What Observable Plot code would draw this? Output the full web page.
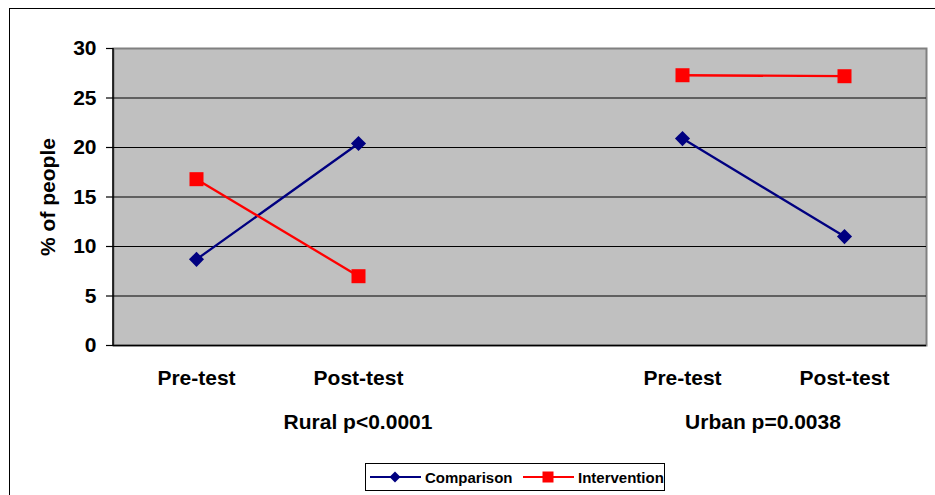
<!DOCTYPE html>
<html><head><meta charset="utf-8">
<script src="https://cdn.jsdelivr.net/npm/d3@7"></script>
<script src="https://cdn.jsdelivr.net/npm/@observablehq/plot@0.6"></script>
<style>
body{margin:0;background:#fff;}
#wrap{position:relative;width:935px;height:495px;overflow:hidden;font-family:Arial,"Liberation Sans",sans-serif;background:#fff;}
#border{position:absolute;left:9px;top:8px;width:980px;height:540px;border:1px solid #000;box-sizing:border-box;}
#chart{position:absolute;left:0;top:0;}
#legend{position:absolute;left:365px;top:463px;width:300px;height:28px;border:1px solid #000;box-sizing:border-box;background:#fff;font-weight:bold;font-size:15px;color:#000;}
#legend .item{position:absolute;top:0;height:26px;display:flex;align-items:center;}
#legend svg{display:block;margin-right:4px;}
</style></head>
<body>
<div id="wrap"><div id="border"></div><div id="chart"></div><div id="legend"></div></div>
<script>
// ---- data ----
const slots = ["Rural Pre-test", "Rural Post-test", "gap", "Urban Pre-test", "Urban Post-test"];
const slotLabels = ["Pre-test", "Post-test", "", "Pre-test", "Post-test"];
const slotGroup = ["Rural", "Rural", "Rural", "Urban", "Urban"];
const groupNames = ["Rural", "Urban"];
const groupLabels = ["Rural p<0.0001", "Urban p=0.0038"];
const seriesNames = ["Comparison", "Intervention"];
const seriesColors = ["#000080", "#ff0000"];
const comparison = [8.7, 20.4, null, 20.9, 11.0];
const intervention = [16.8, 7.0, null, 27.3, 27.2];
const yTicks = [0, 5, 10, 15, 20, 25, 30];
const yLabel = "% of people";

// ---- table ----
const rows = [];
[comparison, intervention].forEach((vals, si) => {
  vals.forEach((v, i) => {
    if (v != null) rows.push({slot: slots[i], series: seriesNames[si], value: v, key: seriesNames[si] + "|" + slotGroup[i]});
  });
});
const labelRows = slots.map((s, i) => ({slot: s, label: slotLabels[i]}));

const W = 935, H = 495;
const font = "Arial, 'Liberation Sans', sans-serif";

function leftLine(index, scales, values, dims) {
  const g = d3.create("svg:g");
  g.append("line")
    .attr("x1", dims.marginLeft).attr("x2", dims.marginLeft)
    .attr("y1", dims.marginTop).attr("y2", dims.height - dims.marginBottom)
    .attr("stroke", "#000").attr("stroke-width", 1.5);
  return g.node();
}

function groupText(index, scales, values, dims) {
  const g = d3.create("svg:g")
    .attr("font-size", 21).attr("font-weight", "bold").attr("text-anchor", "middle").attr("fill", "#000");
  groupNames.forEach((gn, gi) => {
    const xs = slots.filter((s, i) => slotGroup[i] === gn).map(s => scales.x(s));
    const cx = d3.mean(xs);
    g.append("text").attr("x", cx).attr("y", dims.height - dims.marginBottom + 77).attr("dy", "0.35em").text(groupLabels[gi]);
  });
  return g.node();
}

const chart = Plot.plot({
  width: W, height: H,
  marginLeft: 113, marginRight: 9, marginTop: 48, marginBottom: 150,
  style: {fontFamily: font, fontWeight: "bold", color: "#000", background: "transparent", overflow: "visible"},
  x: {type: "point", domain: slots, padding: 0.5, axis: null},
  y: {domain: [0, 30], axis: null},
  color: {domain: seriesNames, range: seriesColors},
  marks: [
    Plot.frame({fill: "#c0c0c0", stroke: "#808080", strokeWidth: 2}),
    Plot.gridY(yTicks.filter(t => t > 0 && t < 30), {stroke: "#000", strokeOpacity: 1, strokeWidth: 1}),
    Plot.axisY({ticks: yTicks, tickSize: 7, tickPadding: 10, fontSize: 21, label: null, stroke: "#000", strokeWidth: 1.2}),
    leftLine,
    Plot.ruleY([0], {stroke: "#000", strokeWidth: 1.5}),
    Plot.text(labelRows, {x: "slot", text: "label", frameAnchor: "bottom", dy: 33, lineAnchor: "middle", fontSize: 21, fontWeight: "bold", fill: "#000"}),
    groupText,
    Plot.text([yLabel], {text: d => d, frameAnchor: "left", dx: -65, rotate: -90, textAnchor: "middle", lineAnchor: "middle", fontSize: 21, fontWeight: "bold", fill: "#000"}),
    Plot.line(rows, {x: "slot", y: "value", z: "key", stroke: "series", strokeWidth: 2.3}),
    Plot.dot(rows.filter(d => d.series === "Comparison"), {x: "slot", y: "value", symbol: () => "diamond2", fill: "series", r: 6.8}),
    Plot.dot(rows.filter(d => d.series === "Intervention"), {x: "slot", y: "value", symbol: () => "square", fill: "series", r: 7.9})
  ]
});
document.getElementById("chart").appendChild(chart);

// ---- legend ----
const legend = document.getElementById("legend");
const legendLeft = [4, 157];
seriesNames.forEach((name, i) => {
  const item = document.createElement("div");
  item.className = "item";
  item.style.left = legendLeft[i] + "px";
  const sym = i === 0
    ? `<polygon points="25,1.5 30.5,7 25,12.5 19.5,7" fill="${seriesColors[i]}"/>`
    : `<rect x="19.5" y="1.5" width="11" height="11" fill="${seriesColors[i]}"/>`;
  item.innerHTML = `<svg width="51" height="14"><line x1="0" x2="51" y1="7" y2="7" stroke="${seriesColors[i]}" stroke-width="2"/>${sym}</svg><span>${name}</span>`;
  legend.appendChild(item);
});
</script>
</body></html>
